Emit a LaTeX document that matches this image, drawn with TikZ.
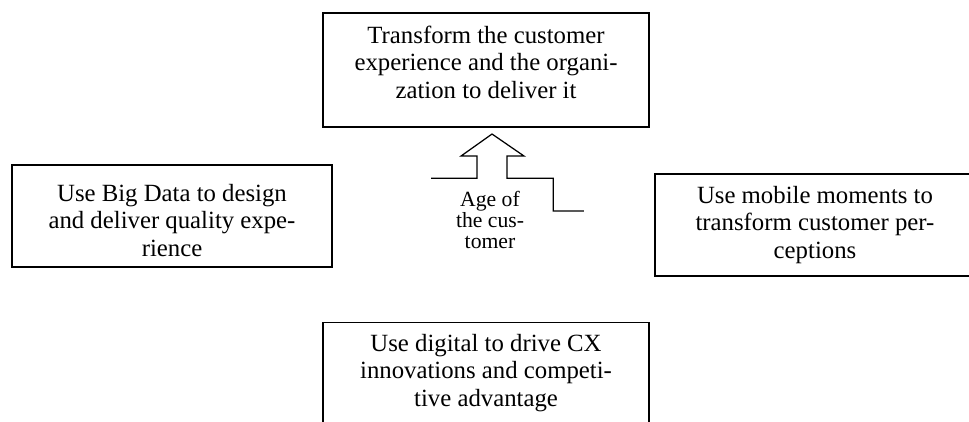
\documentclass[tikz,border=0pt]{standalone}
\usepackage{fontspec}
\setmainfont{Liberation Serif}
\begin{document}
\begin{tikzpicture}[
    box/.style={draw, line width=0.7pt, align=center, inner sep=2pt,
      font=\fontsize{12}{13.2}\selectfont},
  ]
  \clip (0,0) rectangle (16.5,7.169);

  \node[box, minimum width=5.55cm, minimum height=1.94cm] (transform) at (8.276,5.977)
    {Transform the customer\\experience and the organi-\\zation to deliver it\rule[-0.27cm]{0pt}{0pt}};
  \node[box, minimum width=5.45cm, minimum height=1.74cm] (bigdata) at (2.929,3.491)
    {\rule{0pt}{0.44cm}Use Big Data to design\\and deliver quality expe-\\rience};
  \node[box, minimum width=5.45cm, minimum height=1.74cm] (mobile) at (13.878,3.338)
    {Use mobile moments to\\transform customer per-\\ceptions};
  \node[box, minimum width=5.55cm, minimum height=1.72cm] (digital) at (8.276,0.817)
    {Use digital to drive CX\\innovations and competi-\\tive advantage};

  % stepped arrow in the middle
  \draw[line width=0.6pt] (7.339,4.133) -- (8.122,4.133) -- (8.122,4.512) -- (7.850,4.512)
    -- (8.378,4.887) -- (8.923,4.512) -- (8.633,4.512) -- (8.633,4.133)
    -- (9.422,4.133) -- (9.422,3.576) -- (9.944,3.576);
  \node[align=center, inner sep=0pt, font=\fontsize{10.5}{10.3}\selectfont] (age) at (8.344,3.42)
    {Age of\\the cus-\\tomer};
\end{tikzpicture}
\end{document}
